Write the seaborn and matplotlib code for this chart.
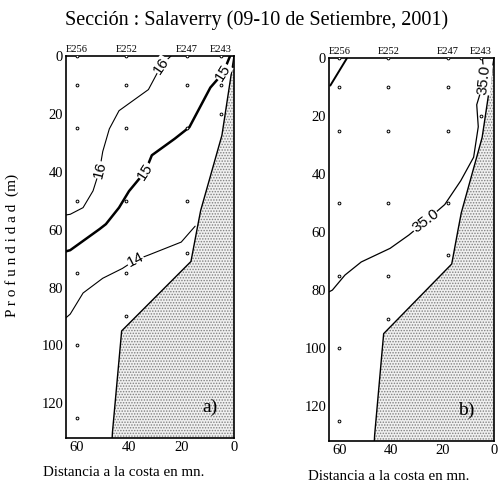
import numpy as np
import pandas as pd
import matplotlib
matplotlib.use("Agg")
import matplotlib.pyplot as plt
import seaborn as sns

sns.set_theme(style="white")
plt.rcParams["font.family"] = ["Liberation Serif", "DejaVu Serif"]
plt.rcParams["text.color"] = "black"
plt.rcParams["hatch.linewidth"] = 0.7
plt.rcParams["hatch.color"] = "#808080"

title = "Sección : Salaverry (09-10 de Setiembre, 2001)"
xlabel = "Distancia a la costa en mn."
ylabel = "P r o f u n d i d a d  (m)"
stations = ["E256", "E252", "E247", "E243"]
station_x = [60, 41, 18, 5]
station_depths = [[0, 10, 25, 50, 75, 100, 125],
                  [0, 10, 25, 50, 75, 90],
                  [0, 10, 25, 50, 68],
                  [0, 10, 20]]
xticks = [60, 40, 20, 0]
yticks = [0, 20, 40, 60, 80, 100, 120]

# bathymetry (bottom profile)
bathy_x = [0, 4.6, 12.7, 13.9, 16.4, 42.8, 46.3, 46.6]
bathy_y = [0, 27.4, 53.4, 59, 71, 95, 130, 135]

# temperature isolines (panel a)
iso16_x = [24, 27.6, 32.6, 43.8, 47.5, 50, 51.2, 53.7, 57.5, 62.4, 66]
iso16_y = [0, 3.1, 11.6, 18.9, 25.2, 33, 39.4, 46.6, 52.4, 54.7, 55.2]
iso15_x = [1.5, 4.1, 9, 17, 22.6, 31.3, 33.8, 40, 43.8, 48.8, 51.2, 62.4, 66]
iso15_y = [0, 5.8, 10.9, 24.6, 28.6, 34.3, 39.9, 46.7, 52.4, 58.1, 59.8, 67.1, 68]
iso14_x = [14.8, 20.1, 32.6, 37.6, 42.5, 50, 57.5, 62.4, 66]
iso14_y = [58.8, 64.3, 68.8, 70.5, 73.4, 76.8, 81.9, 89.2, 92]

# salinity isolines (panel b)
sal_x = [4.5, 3.7, 6.7, 6.1, 7.9, 12.9, 19.1, 26.6, 33, 40.3, 51.5, 57.8, 62.7, 66]
sal_y = [0, 7.3, 16.1, 23.7, 34.2, 42.3, 50.5, 56.3, 61, 65.6, 70.3, 74.8, 80, 81.5]
sal2_x = [57, 63.5]
sal2_y = [0, 9.5]

W, H = 499, 487
fig = plt.figure(figsize=(W / 100, H / 100), dpi=100)
axA = fig.add_axes([66 / W, 1 - 438 / H, 168 / W, 382 / H])
axB = fig.add_axes([329 / W, 1 - 441 / H, 165 / W, 383 / H])

XLIM = (64, 0)
YLIM = (132, 0)

pts = pd.DataFrame({
    "x": [station_x[i] for i, d in enumerate(station_depths) for _ in d],
    "y": [v for d in station_depths for v in d],
})


def base(ax):
    ax.fill_betweenx(bathy_y, bathy_x, [0] * len(bathy_x), facecolor="#f0f0f0",
                     hatch="......", edgecolor="#808080", linewidth=0, zorder=0)
    sns.lineplot(x=bathy_x, y=bathy_y, sort=False, estimator=None, ax=ax,
                 color="black", lw=1.0, zorder=2)
    sns.scatterplot(data=pts, x="x", y="y", ax=ax, marker="o", s=4,
                    facecolor="white", edgecolor="black", linewidth=0.7, zorder=3)
    ax.set_xlim(*XLIM)
    ax.set_ylim(*YLIM)
    ax.set_xticks(xticks)
    ax.set_yticks(yticks)
    ax.set_xlabel("")
    ax.set_ylabel("")
    ax.tick_params(axis="both", length=2, width=0.8, direction="in",
                   labelsize=10.5, pad=2, colors="black")
    for sp in ax.spines.values():
        sp.set_color("black")
        sp.set_linewidth(1.2)
    for name, sx in zip(stations, station_x):
        ax.text(sx, -0.8, name, ha="center", va="bottom", fontsize=7.5,
                clip_on=False)


def clabel(ax, x, y, s, rot, size=11):
    ax.text(x, y, s, rotation=rot, ha="center", va="center", fontsize=size,
            family=["Liberation Sans", "DejaVu Sans"], rotation_mode="anchor",
            bbox=dict(facecolor="white", edgecolor="none", pad=0.2), zorder=4)


base(axA)
for xs, ys, lw in [(iso16_x, iso16_y, 0.8), (iso15_x, iso15_y, 1.8), (iso14_x, iso14_y, 0.8)]:
    sns.lineplot(x=xs, y=ys, sort=False, estimator=None, ax=axA, color="black", lw=lw, zorder=2)
clabel(axA, 27.6, 3.3, "16", 56)
clabel(axA, 51.2, 39.4, "16", 76)
clabel(axA, 4.3, 5.6, "15", 58)
clabel(axA, 33.8, 39.9, "15", 57)
clabel(axA, 37.6, 70.5, "14", 27)
axA.text(0.86, 0.08, "a)", transform=axA.transAxes, fontsize=14, ha="center", va="center")

base(axB)
sns.lineplot(x=sal_x, y=sal_y, sort=False, estimator=None, ax=axB, color="black", lw=0.9, zorder=2)
sns.lineplot(x=sal2_x, y=sal2_y, sort=False, estimator=None, ax=axB, color="black", lw=1.4, zorder=2)
clabel(axB, 3.8, 7.5, "35.0", 84)
clabel(axB, 26.6, 56.3, "35.0", 37)
axB.text(0.83, 0.08, "b)", transform=axB.transAxes, fontsize=14, ha="center", va="center")

fig.text(0.515, 1 - 20 / H, title, ha="center", va="center", fontsize=14.5)
fig.text(12 / W, 1 - 245 / H, ylabel, rotation=90, ha="center", va="center", fontsize=11)
fig.text(124 / W, 1 - 473 / H, xlabel, ha="center", va="center", fontsize=10.8)
fig.text(389 / W, 1 - 477 / H, xlabel, ha="center", va="center", fontsize=10.8)

fig.savefig("out.png", dpi=100)
